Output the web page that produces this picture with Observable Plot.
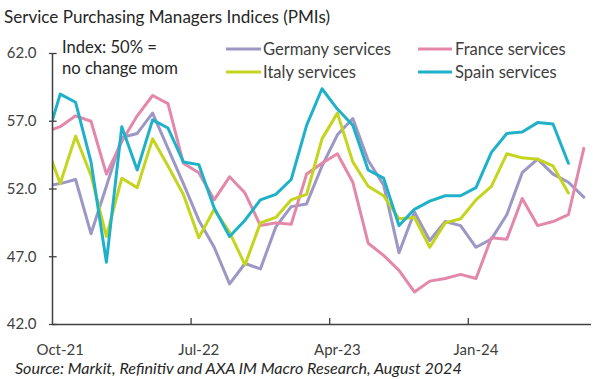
<!DOCTYPE html>
<html>
<head>
<meta charset="utf-8">
<script src="https://cdn.jsdelivr.net/npm/d3@7"></script>
<script src="https://cdn.jsdelivr.net/npm/@observablehq/plot@0.6"></script>
<style>
  html, body { margin: 0; padding: 0; background: #fff; }
  body { width: 614px; height: 379px; overflow: hidden; font-family: Lato, "Open Sans", sans-serif; color: #262626; }
  #title { height: 36px; line-height: 34px; font-size: 18px; padding-left: 4px; white-space: nowrap; }
  #caption { height: 19px; line-height: 16px; font-size: 16px; font-style: italic; padding-left: 15px; white-space: nowrap; }
  #title span, #caption span { display: inline-block; }
  svg { display: block; }
</style>
</head>
<body>
<div id="title"><span>Service Purchasing Managers Indices (PMIs)</span></div>
<div id="chart"></div>
<div id="caption"><span>Source: Markit, Refinitiv and AXA IM Macro Research, August 2024</span></div>
<script>
// ---- data (Sep-21 .. Aug-24; Sep-21 lies just left of the axis and is clipped) ----
const months = ["Sep-21","Oct-21","Nov-21","Dec-21","Jan-22","Feb-22","Mar-22","Apr-22","May-22","Jun-22","Jul-22","Aug-22",
  "Sep-22","Oct-22","Nov-22","Dec-22","Jan-23","Feb-23","Mar-23","Apr-23","May-23","Jun-23","Jul-23","Aug-23",
  "Sep-23","Oct-23","Nov-23","Dec-23","Jan-24","Feb-24","Mar-24","Apr-24","May-24","Jun-24","Jul-24","Aug-24"];
const seriesNames = ["Germany services","France services","Italy services","Spain services"];
const germany = [52.2,52.4,52.7,48.7,52.2,55.8,56.1,57.6,55.0,52.4,49.7,47.7,45.0,46.5,46.1,49.2,50.7,50.9,53.7,56.0,57.2,54.1,52.3,47.3,50.3,48.2,49.6,49.3,47.7,48.3,50.1,53.2,54.2,53.1,52.5,51.4];
const france  = [56.2,56.6,57.4,57.0,53.1,55.5,57.4,58.9,58.3,53.9,53.2,51.2,52.9,51.7,49.3,49.5,49.4,53.1,53.9,54.6,52.5,48.0,47.1,46.0,44.4,45.2,45.4,45.7,45.4,48.4,48.3,51.3,49.3,49.6,50.1,55.0];
const italy   = [55.5,52.4,55.9,53.0,48.5,52.8,52.1,55.7,53.7,51.6,48.4,50.5,48.8,46.4,49.5,49.9,51.2,51.6,55.7,57.6,54.0,52.2,51.5,49.8,49.9,47.7,49.5,49.8,51.2,52.2,54.6,54.3,54.2,53.7,51.7,null];
const spain   = [55.2,59.0,58.4,54.0,46.6,56.6,53.4,57.1,56.5,54.0,53.8,50.6,48.5,49.7,51.2,51.6,52.7,56.7,59.4,57.9,56.7,53.4,52.8,49.3,50.5,51.1,51.5,51.5,52.1,54.7,56.1,56.2,56.9,56.8,53.9,null];
const xTickLabels = ["Oct-21","Jul-22","Apr-23","Jan-24"];
const yTicks = [42,47,52,57,62];
const note = ["Index: 50% =","no change mom"];

// ---- build table ----
const allSeries = [germany, france, italy, spain];
const rows = [];
allSeries.forEach((vals, s) => vals.forEach((v, k) => { if (v != null) rows.push({k, v, series: seriesNames[s]}); }));
const xTickIdx = xTickLabels.map(l => months.indexOf(l));
const firstIdx = months.indexOf("Oct-21");
const lastIdx = months.length - 1;
const boundaries = xTickIdx.slice(1).map(i => i - 0.5);

const colors = ["#9c97c5","#e388ab","#c5d41c","#1fb1c9"];
const axisColor = "#404040";

const chart = Plot.plot({
  width: 614, height: 324,
  marginLeft: 52, marginRight: 23, marginTop: 17, marginBottom: 36,
  style: {fontFamily: "Lato, sans-serif", fontSize: "15px", color: "#404040", background: "white"},
  x: {domain: [firstIdx - 0.5, lastIdx + 0.5]},
  y: {domain: [42, 62]},
  color: {domain: seriesNames, range: colors},
  marks: [
    Plot.line(rows, {x: "k", y: "v", z: "series", stroke: "series", strokeWidth: 3, clip: true, curve: "linear"}),
    Plot.ruleX([firstIdx - 0.5], {stroke: axisColor, strokeWidth: 1.5}),
    Plot.ruleY([42], {stroke: axisColor, strokeWidth: 1.5}),
    Plot.ruleY(yTicks, {x1: firstIdx - 0.7, x2: firstIdx - 0.2, stroke: axisColor, strokeWidth: 1.3}),
    Plot.ruleX(boundaries, {y1: 42, y2: 42.45, stroke: axisColor, strokeWidth: 1.3}),
    Plot.axisY({ticks: yTicks, tickSize: 0, tickPadding: 16, tickFormat: d3.format(".1f"), label: null}),
    Plot.axisX({ticks: xTickIdx, tickSize: 0, tickPadding: 20, tickFormat: (d) => months[d], label: null})
  ]
});
document.getElementById("chart").appendChild(chart);

// ---- legend & note (layout positions) ----
const svg = d3.select(chart);
const legendPos = [
  {x0: 226, x1: 261, tx: 263, y: 13},
  {x0: 418, x1: 452, tx: 455, y: 13},
  {x0: 226, x1: 261, tx: 263, y: 36},
  {x0: 418, x1: 452, tx: 455, y: 36}
];
const lg = svg.append("g").attr("font-family", "Lato, sans-serif").attr("font-size", 15)
  .attr("fill", "#404040").attr("text-anchor", "start");
const legendTexts = [];
seriesNames.forEach((name, i) => {
  const p = legendPos[i];
  lg.append("line").attr("x1", p.x0).attr("x2", p.x1).attr("y1", p.y).attr("y2", p.y)
    .attr("stroke", colors[i]).attr("stroke-width", 3);
  legendTexts.push(lg.append("text").attr("x", p.tx).attr("y", p.y).attr("dy", "0.35em").attr("text-anchor", "start").text(name));
});
const ng = svg.append("g").attr("font-family", "Lato, sans-serif").attr("font-size", 15)
  .attr("fill", "#262626").attr("text-anchor", "start");
const noteTexts = note.map((t, i) =>
  ng.append("text").attr("x", 62).attr("y", 11 + i * 21).attr("dy", "0.35em").attr("text-anchor", "start").text(t));

// ---- fit font sizes to the reference text widths ----
function fitGroup(group, sample, target) {
  const w = sample.node().getComputedTextLength();
  if (w > 0) group.attr("font-size", (15 * target / w).toFixed(2));
}
fitGroup(lg, legendTexts[0], 128);
fitGroup(ng, noteTexts[1], 116);
function fitHtml(id, target) {
  const el = document.querySelector("#" + id);
  const span = el.querySelector("span");
  const fs = parseFloat(getComputedStyle(el).fontSize);
  const w = span.getBoundingClientRect().width;
  if (w > 0) el.style.fontSize = (fs * target / w).toFixed(2) + "px";
}
fitHtml("title", 326);
fitHtml("caption", 447);
</script>
</body>
</html>
